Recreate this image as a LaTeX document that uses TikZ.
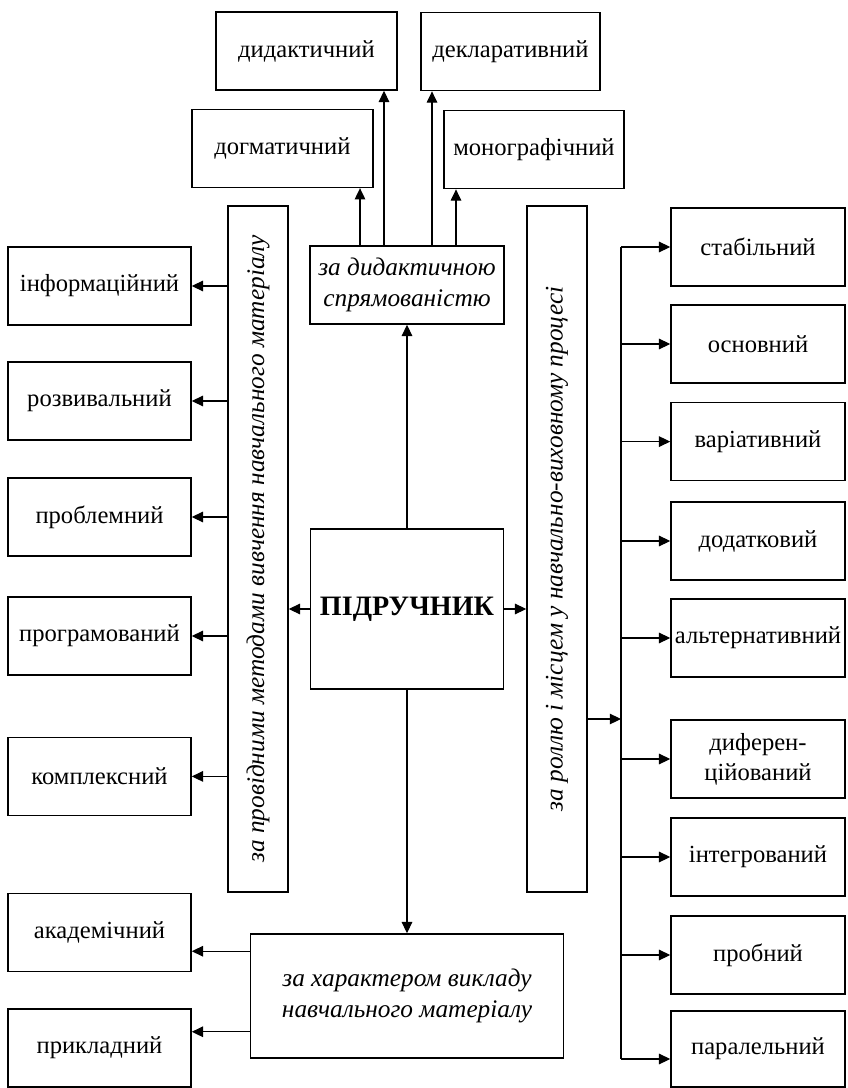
\documentclass[tikz,border=0pt]{standalone}
\usepackage{fontspec}
\setmainfont{Liberation Serif}
\usepackage{tikz}
\usetikzlibrary{arrows.meta,positioning,calc}

\begin{document}
\begin{tikzpicture}[font=\fontsize{17.5}{21.5}\selectfont,
  box/.style={rectangle, draw, line width=1.1pt, minimum width=4.575cm, minimum height=1.95cm, align=center, inner sep=2pt},
  rbox/.style={box, minimum width=4.35cm},
  vbox/.style={rectangle, draw, line width=1.1pt, minimum width=1.5cm, minimum height=17.15cm, inner sep=0pt},
  arr/.style={-{Triangle[length=8pt,width=7.5pt]}, line width=0.8pt}]
  \useasboundingbox (0,0) rectangle (21.175,-27.2);
  % Top row
  \node[box, minimum width=4.525cm] (didakt) at (7.66,-1.275)  {дидактичний};
  \node[box, minimum width=4.475cm] (deklar) at (12.76,-1.29)  {декларативний};
  \node[box, minimum width=4.525cm] (dogmat) at (7.06,-3.71)   {догматичний};
  \node[box, minimum width=4.5cm]   (monogr) at (13.35,-3.74)  {монографічний};
  \node[box, minimum width=4.85cm, font=\fontsize{18}{21.5}\selectfont\itshape] (spryam) at (10.175,-7.125) {за дидактичною\\спрямованістю};
  % Centre
  \node[box, minimum width=4.825cm, minimum height=4cm, font=\fontsize{20}{24}\selectfont\bfseries] (pidr) at (10.175,-15.225) {ПІДРУЧНИК};
  \node[vbox] (metody) at (6.45,-13.725) {\rotatebox{90}{\fontsize{18}{21.5}\selectfont\itshape за провідними методами вивчення навчального матеріалу}};
  \node[vbox] (rol) at (13.925,-13.725) {\rotatebox{90}{\fontsize{18}{21.5}\selectfont\itshape за роллю і місцем у навчально-виховному процесі}};
  \node[box, minimum width=7.825cm, minimum height=3.1cm, font=\fontsize{18}{21.5}\selectfont\itshape] (vyklad) at (10.175,-24.9) {за характером викладу\\навчального матеріалу};
  % Left column
  \node[box] (inform)  at (2.4875,-7.15)  {інформаційний};
  \node[box] (rozv)    at (2.4875,-10.025) {розвивальний};
  \node[box] (problem) at (2.4875,-12.925) {проблемний};
  \node[box] (program) at (2.4875,-15.9)  {програмований};
  \node[box] (komplex) at (2.4875,-19.41) {комплексний};
  \node[box] (akadem)  at (2.4875,-23.31) {академічний};
  \node[box] (prykl)   at (2.4875,-26.2)  {прикладний};
  % Right column
  \node[rbox] (stab)  at (18.95,-6.175)  {стабільний};
  \node[rbox] (osn)   at (18.95,-8.6)    {основний};
  \node[rbox] (var)   at (18.95,-11.04)  {варіативний};
  \node[rbox] (dodat) at (18.95,-13.525) {додатковий};
  \node[rbox] (alt)   at (18.95,-15.95)  {альтернативний};
  \node[rbox] (dyf)   at (18.95,-18.975) {диферен-\\ційований};
  \node[rbox] (integ) at (18.95,-21.425) {інтегрований};
  \node[rbox] (prob)  at (18.95,-23.875) {пробний};
  \node[rbox, minimum height=1.9cm] (paral) at (18.95,-26.225) {паралельний};
  \coordinate (bus) at (15.525,0);
  % Arrows up
  \draw[arr] ([xshift=-1.175cm]spryam.north) -- ([xshift=-1.175cm]spryam.north |- dogmat.south);
  \draw[arr] ([xshift=-0.575cm]spryam.north) -- ([xshift=-0.575cm]spryam.north |- didakt.south);
  \draw[arr] ([xshift=0.625cm]spryam.north) -- ([xshift=0.625cm]spryam.north |- deklar.south);
  \draw[arr] ([xshift=1.225cm]spryam.north) -- ([xshift=1.225cm]spryam.north |- monogr.south);
  % From the textbook
  \draw[arr] (pidr.north) -- (spryam.south);
  \draw[arr] (pidr.south) -- (vyklad.north);
  \draw[arr] (pidr.west) -- (pidr.west -| metody.east);
  \draw[arr] (pidr.east) -- (pidr.east -| rol.west);
  % Left branches
  \foreach \n in {inform,rozv,problem,program,komplex}
    \draw[arr] (\n.east -| metody.west) -- (\n.east);
  \draw[arr] ([yshift=-0.45cm]vyklad.north west) -- ([yshift=-0.45cm]vyklad.north west -| akadem.east);
  \draw[arr] ([yshift=0.675cm]vyklad.south west) -- ([yshift=0.675cm]vyklad.south west -| prykl.east);
  % Right branches
  \draw[line width=0.8pt] (stab.west -| bus) -- ([yshift=-0.25cm]paral.west -| bus);
  \draw[arr] ([yshift=-4.25cm]rol.east) -- ([yshift=-4.25cm]rol.east -| bus);
  \foreach \n in {stab,osn,var,dodat,alt,dyf,integ,prob}
    \draw[arr] (\n.west -| bus) -- (\n.west);
  \draw[arr] ([yshift=-0.25cm]paral.west -| bus) -- ([yshift=-0.25cm]paral.west);
\end{tikzpicture}
\end{document}
